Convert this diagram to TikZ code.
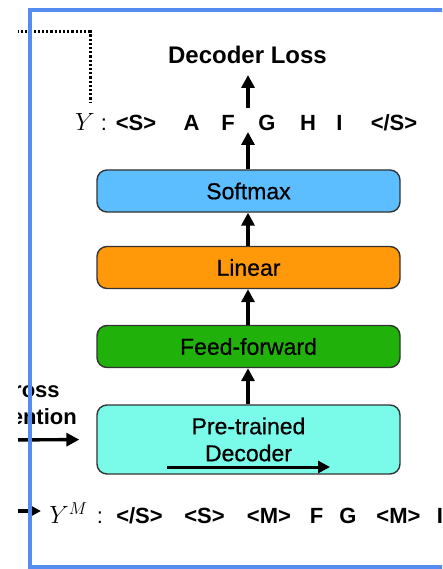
\documentclass[tikz,border=0pt]{standalone}
\usepackage{fontspec}
\setmainfont{Liberation Sans}
\newfontfamily\labelfont[FakeBold=0.6]{Liberation Sans}
\usetikzlibrary{arrows.meta}
\definecolor{frameblue}{RGB}{85,140,240}
\definecolor{softblue}{RGB}{92,190,255}
\definecolor{linorange}{RGB}{255,153,10}
\definecolor{ffgreen}{RGB}{32,178,10}
\definecolor{decaqua}{RGB}{122,250,232}
\begin{document}
\begin{tikzpicture}[x=1pt,y=-1pt,
  layerbox/.style={draw=black!80, line width=1.4pt, rounded corners=10pt,
    minimum width=303pt, minimum height=42pt, inner sep=0pt,
    font=\labelfont\fontsize{23}{27}\selectfont},
  tok/.style={font=\bfseries\fontsize{22}{26}\selectfont, anchor=base, inner sep=0pt},
  arr/.style={line width=3.4pt, -{Triangle[length=13pt,width=13pt]}},
  thinarr/.style={line width=3pt, -{Triangle[length=12pt,width=12pt]}}]
\useasboundingbox (0,0) rectangle (442,569);
\clip (18,0) rectangle (442,569);

% dotted connector from the encoder side
\draw[line width=3pt, dash pattern=on 2.2pt off 2pt] (0,32) -- (90,32) -- (90,102);

% stacked layers
\node[layerbox, fill=softblue] (soft) at (248.5,191) {Softmax};
\node[layerbox, fill=linorange] (lin) at (248.5,267.5) {Linear};
\node[layerbox, fill=ffgreen] (ff) at (248.5,346.5) {Feed-forward};
\node[layerbox, fill=decaqua, minimum height=69pt, align=center] (dec) at (248.5,439.5) {Pre-trained\\Decoder};

% loss and target sequence
\node[font=\bfseries\fontsize{24}{28}\selectfont, anchor=base, inner sep=0pt] (loss) at (247.5,63.3) {Decoder Loss};
\node[tok, font=\fontsize{24}{26}\selectfont] (yv) at (85,131) {$Y$};
\node[tok, font=\fontsize{22}{26}\selectfont] (ycol) at (104,131) {:};
\node[tok] (t1) at (136,131) {<S>};
\node[tok] (t2) at (191.5,131) {A};
\node[tok] (t3) at (228,131) {F};
\node[tok] (t4) at (267,131) {G};
\node[tok] (t5) at (308,131) {H};
\node[tok] (t6) at (339.5,131) {I};
\node[tok] (t7) at (394,131) {</S>};

% masked input sequence
\node[tok, font=\fontsize{24}{26}\selectfont] (ym) at (68.5,523.5) {$Y^M$};
\node[tok, font=\fontsize{22}{26}\selectfont] (mcol) at (100,523.5) {:};
\node[tok] (m1) at (139.5,523.5) {</S>};
\node[tok] (m2) at (204.5,523.5) {<S>};
\node[tok] (m3) at (269,523.5) {<M>};
\node[tok] (m4) at (316.5,523.5) {F};
\node[tok] (m5) at (348,523.5) {G};
\node[tok] (m6) at (398.5,523.5) {<M>};
\node[tok] (m7) at (440,523.5) {I};

% cross attention input
\node[font=\bfseries\fontsize{22}{27}\selectfont, align=center, inner sep=0pt] (xatt) at (28.5,403.5) {Cross\\Attention};

% free ends of connectors
\coordinate (lossfoot) at (248,108);
\coordinate (losstip) at (248,75);
\coordinate (ytip) at (248,132);
\coordinate (xin) at (0,440);
\coordinate (min) at (0,511);
\coordinate (da) at (167,467);
\coordinate (db) at (330,467);

% connectors
\draw[arr] (lossfoot) -- (losstip);
\draw[arr] (soft.north -| ytip) -- (ytip);
\draw[arr] (lin.north -| ytip) -- (soft.south -| ytip);
\draw[arr] (ff.north -| ytip) -- (lin.south -| ytip);
\draw[arr] (dec.north -| ytip) -- (ff.south -| ytip);
\draw[arr, shorten >=17pt] (xin) -- (dec.west);
\draw[arr] (min) -- (min -| 41,0);
\draw[thinarr] (da) -- (db);

% frame
\draw[frameblue, line width=4pt] (460,10) -- (30,10) -- (30,567) -- (460,567);
\end{tikzpicture}
\end{document}
